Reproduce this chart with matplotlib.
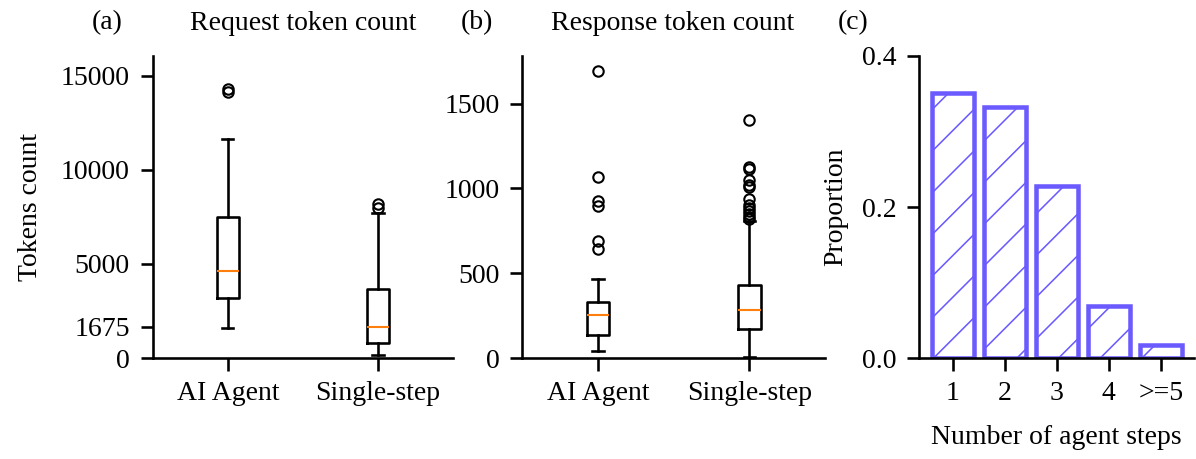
import matplotlib
matplotlib.use("Agg")
import matplotlib.pyplot as plt

# ---------------- data ----------------
box_labels = ["AI Agent", "Single-step"]

req_whislo = [1580, 160]
req_q1 = [3175, 815]
req_med = [4628, 1630]
req_q3 = [7515, 3650]
req_whishi = [11630, 7700]
req_fliers_agent = [14290, 14150]
req_fliers_single = [8175, 7960]
req_yticks = [0, 1675, 5000, 10000, 15000]

resp_whislo = [43, 5]
resp_q1 = [137, 171]
resp_med = [251, 281]
resp_q3 = [328, 428]
resp_whishi = [467, 808]
resp_fliers_agent = [1693, 1065, 923, 898, 693, 642]
resp_fliers_single = [1404, 1129, 1115, 1047, 1021, 1008, 937, 903, 884, 868, 850, 834, 819]
resp_yticks = [0, 500, 1000, 1500]

step_labels = ["1", "2", "3", "4", ">=5"]
step_props = [0.351, 0.333, 0.228, 0.069, 0.017]

# ---------------- style ----------------
plt.rcParams["font.family"] = ["Liberation Serif", "DejaVu Serif"]
plt.rcParams["font.size"] = 8.0
plt.rcParams["hatch.linewidth"] = 0.45

DPI = 250
fig = plt.figure(figsize=(1196 / DPI, 459 / DPI), dpi=DPI)
ax1 = fig.add_axes([0.1277, 0.22, 0.2511, 0.658])
ax2 = fig.add_axes([0.4367, 0.22, 0.2531, 0.658])
ax3 = fig.add_axes([0.7687, 0.2194, 0.2298, 0.6586])

LW = 0.75


def make_stats(wlo, q1, med, q3, whi, fliers_list):
    out = []
    for i in range(len(box_labels)):
        out.append(dict(whislo=wlo[i], q1=q1[i], med=med[i], q3=q3[i],
                        whishi=whi[i], fliers=fliers_list[i], label=box_labels[i]))
    return out


def draw_box(ax, stats):
    ax.bxp(stats, positions=[1, 2], widths=0.15,
           boxprops=dict(linewidth=LW, color="black"),
           whiskerprops=dict(linewidth=LW, color="black"),
           capprops=dict(linewidth=LW, color="black"),
           medianprops=dict(linewidth=LW * 0.8, color="#ff7f0e"),
           flierprops=dict(marker="o", markersize=3.0, markerfacecolor="none",
                           markeredgecolor="black", markeredgewidth=0.6))
    ax.set_xlim(0.5, 2.5)


def style(ax):
    for s in ["top", "right"]:
        ax.spines[s].set_visible(False)
    for s in ["left", "bottom"]:
        ax.spines[s].set_linewidth(LW)
    ax.tick_params(length=3.6, width=LW, direction="out", pad=3.0)


draw_box(ax1, make_stats(req_whislo, req_q1, req_med, req_q3, req_whishi,
                         [req_fliers_agent, req_fliers_single]))
ax1.set_ylim(0, 16060)
ax1.set_yticks(req_yticks)
ax1.set_ylabel("Tokens count", labelpad=5)
style(ax1)

draw_box(ax2, make_stats(resp_whislo, resp_q1, resp_med, resp_q3, resp_whishi,
                         [resp_fliers_agent, resp_fliers_single]))
ax2.set_ylim(0, 1781)
ax2.set_yticks(resp_yticks)
style(ax2)

bar_color = "#6a5aff"
x = list(range(len(step_labels)))
ax3.bar(x, step_props, width=0.8, facecolor="white", edgecolor=bar_color,
        linewidth=1.3, hatch="//")
ax3.set_xticks(x)
ax3.set_xticklabels(step_labels)
ax3.set_ylim(0, 0.4)
ax3.set_yticks([0.0, 0.2, 0.4])
ax3.set_ylabel("Proportion")
ax3.set_xlabel("Number of agent steps", labelpad=5.5)
style(ax3)

ty = 1 - 23 / 459
fig.text(107 / 1196, ty, "(a)", ha="center", va="center")
fig.text(303 / 1196, ty, "Request token count", ha="center", va="center")
fig.text(477 / 1196, ty, "(b)", ha="center", va="center")
fig.text(673 / 1196, ty, "Response token count", ha="center", va="center")
fig.text(853 / 1196, ty, "(c)", ha="center", va="center")

fig.savefig("out.png", dpi=DPI)
